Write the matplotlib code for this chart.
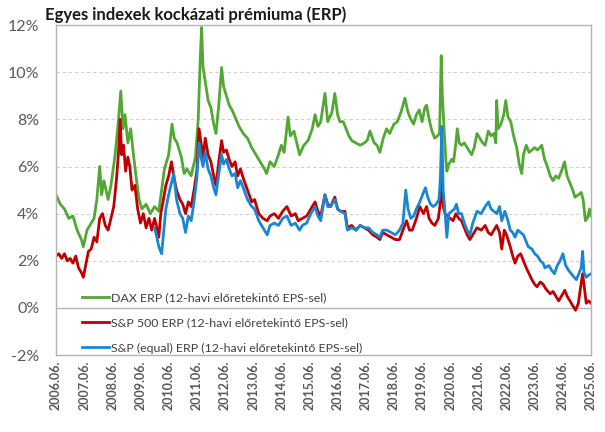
import matplotlib.pyplot as plt
from matplotlib.ticker import FixedLocator, FuncFormatter

# DAX ERP (years as decimal, values in %)
dax_years = [
    2006.50, 2006.65, 2006.80, 2006.95, 2007.10, 2007.25, 2007.40, 2007.47, 2007.60, 2007.75,
    2007.85, 2007.95, 2008.05, 2008.12, 2008.20, 2008.35, 2008.45, 2008.60, 2008.72, 2008.80,
    2008.88, 2008.95, 2009.05, 2009.15, 2009.25, 2009.35, 2009.45, 2009.55, 2009.70, 2009.85,
    2010.00, 2010.15, 2010.25, 2010.35, 2010.50, 2010.62, 2010.70, 2010.80, 2010.95, 2011.05,
    2011.15, 2011.30, 2011.45, 2011.55, 2011.62, 2011.67, 2011.72, 2011.80, 2011.90, 2012.00,
    2012.10, 2012.18, 2012.28, 2012.38, 2012.45, 2012.55, 2012.65, 2012.75, 2012.86, 2013.00,
    2013.15, 2013.30, 2013.45, 2013.60, 2013.75, 2013.90, 2013.98, 2014.10, 2014.25, 2014.40,
    2014.50, 2014.60, 2014.74, 2014.82, 2014.95, 2015.05, 2015.15, 2015.30, 2015.45, 2015.60,
    2015.70, 2015.80, 2015.90, 2016.05, 2016.15, 2016.30, 2016.40, 2016.50, 2016.58, 2016.70,
    2016.80, 2016.90, 2017.00, 2017.15, 2017.30, 2017.45, 2017.55, 2017.65, 2017.80, 2017.90,
    2018.00, 2018.12, 2018.24, 2018.35, 2018.50, 2018.62, 2018.75, 2018.89, 2019.00, 2019.10,
    2019.20, 2019.30, 2019.40, 2019.50, 2019.60, 2019.66, 2019.75, 2019.85, 2019.95, 2020.05,
    2020.12, 2020.18, 2020.22, 2020.28, 2020.35, 2020.38, 2020.45, 2020.55, 2020.62, 2020.70,
    2020.75, 2020.82, 2020.90, 2021.00, 2021.10, 2021.26, 2021.35, 2021.45, 2021.55, 2021.65,
    2021.74, 2021.85, 2021.95, 2022.05, 2022.12, 2022.15, 2022.20, 2022.30, 2022.40, 2022.47,
    2022.55, 2022.65, 2022.75, 2022.86, 2022.95, 2023.04, 2023.10, 2023.20, 2023.30, 2023.40,
    2023.50, 2023.60, 2023.75, 2023.85, 2023.95, 2024.05, 2024.15, 2024.25, 2024.35, 2024.45,
    2024.56, 2024.65, 2024.75, 2024.85, 2024.93, 2025.05, 2025.15, 2025.22, 2025.30, 2025.38,
    2025.45, 2025.50,
]
dax_erp = [
    4.8, 4.4, 4.2, 3.8, 3.9, 3.3, 2.9, 2.6, 3.3, 3.6,
    3.8, 4.6, 6.0, 4.8, 5.4, 4.6, 5.2, 6.5, 8.0, 9.2,
    7.6, 8.2, 7.0, 7.6, 6.5, 5.5, 4.6, 4.2, 4.4, 4.0,
    4.3, 4.1, 5.0, 5.9, 6.5, 7.8, 7.2, 7.0, 6.4, 5.7,
    5.9, 5.6, 6.4, 8.0, 10.5, 11.9, 10.2, 9.6, 8.8, 8.5,
    7.8, 7.4, 8.6, 10.2, 9.4, 9.0, 8.6, 8.4, 8.1, 7.7,
    7.4, 7.2, 6.8, 6.5, 6.2, 5.9, 5.7, 6.2, 6.0, 6.5,
    6.9, 6.6, 8.1, 7.3, 7.5, 7.0, 6.5, 6.9, 7.1, 7.6,
    8.2, 7.7, 7.9, 9.1, 7.9, 8.3, 9.1, 8.2, 7.9, 7.9,
    7.6, 7.3, 7.1, 7.0, 6.9, 7.0, 7.1, 7.5, 7.0, 6.9,
    6.6, 7.2, 7.6, 7.4, 7.8, 7.9, 8.3, 8.9, 8.3, 8.0,
    7.8, 8.2, 8.4, 7.9, 8.5, 8.6, 8.0, 7.5, 7.2, 7.3,
    7.4, 10.7, 9.0, 7.6, 6.2, 5.8, 6.1, 6.3, 6.2, 7.0,
    7.6, 7.0, 6.9, 7.0, 6.8, 6.5, 6.8, 7.4, 7.2, 7.0,
    6.9, 7.5, 7.3, 7.4, 7.0, 8.8, 7.6, 7.8, 8.2, 8.8,
    8.1, 7.9, 7.3, 6.8, 6.1, 5.7, 6.5, 6.9, 6.6, 6.7,
    6.8, 6.7, 6.9, 6.3, 6.0, 5.6, 5.4, 5.6, 5.5, 5.8,
    6.2, 5.6, 5.3, 5.0, 4.7, 4.8, 4.9, 4.6, 3.7, 3.85,
    4.2, 3.9,
]

# S&P 500 ERP
spx_years = [
    2006.50, 2006.60, 2006.70, 2006.80, 2006.90, 2007.00, 2007.10, 2007.20, 2007.30, 2007.40,
    2007.47, 2007.55, 2007.65, 2007.75, 2007.85, 2007.95, 2008.05, 2008.15, 2008.25, 2008.35,
    2008.45, 2008.55, 2008.65, 2008.72, 2008.78, 2008.83, 2008.90, 2008.97, 2009.05, 2009.12,
    2009.20, 2009.30, 2009.40, 2009.50, 2009.60, 2009.70, 2009.80, 2009.90, 2010.00, 2010.08,
    2010.15, 2010.22, 2010.30, 2010.40, 2010.50, 2010.60, 2010.68, 2010.78, 2010.90, 2011.00,
    2011.10, 2011.20, 2011.30, 2011.40, 2011.50, 2011.58, 2011.65, 2011.72, 2011.80, 2011.90,
    2012.00, 2012.10, 2012.18, 2012.28, 2012.38, 2012.45, 2012.55, 2012.65, 2012.75, 2012.86,
    2012.95, 2013.05, 2013.15, 2013.30, 2013.45, 2013.55, 2013.70, 2013.85, 2014.00, 2014.10,
    2014.25, 2014.40, 2014.55, 2014.70, 2014.85, 2015.00, 2015.10, 2015.25, 2015.40, 2015.55,
    2015.70, 2015.80, 2015.90, 2016.05, 2016.15, 2016.25, 2016.40, 2016.50, 2016.60, 2016.76,
    2016.85, 2017.00, 2017.15, 2017.30, 2017.45, 2017.60, 2017.75, 2017.90, 2018.00, 2018.10,
    2018.25, 2018.40, 2018.55, 2018.70, 2018.82, 2018.95, 2019.05, 2019.15, 2019.30, 2019.42,
    2019.55, 2019.66, 2019.75, 2019.85, 2019.95, 2020.08, 2020.15, 2020.20, 2020.25, 2020.32,
    2020.40, 2020.50, 2020.60, 2020.70, 2020.80, 2020.90, 2021.00, 2021.10, 2021.20, 2021.30,
    2021.45, 2021.60, 2021.74, 2021.85, 2021.95, 2022.05, 2022.15, 2022.25, 2022.33, 2022.42,
    2022.50, 2022.63, 2022.72, 2022.80, 2022.90, 2023.00, 2023.10, 2023.20, 2023.30, 2023.40,
    2023.50, 2023.58, 2023.70, 2023.80, 2023.90, 2024.05, 2024.15, 2024.25, 2024.35, 2024.45,
    2024.57, 2024.65, 2024.75, 2024.85, 2024.95, 2025.05, 2025.12, 2025.20, 2025.27, 2025.33,
    2025.42, 2025.50,
]
spx_erp = [
    2.2, 2.3, 2.1, 2.3, 2.0, 2.1, 1.9, 2.2, 1.7, 1.5,
    1.3, 1.8, 2.4, 2.5, 3.0, 2.8, 3.8, 4.0, 3.5, 3.3,
    3.8, 4.3, 5.5, 6.6, 8.0, 6.5, 6.9, 5.8, 6.4, 6.0,
    5.0, 5.2, 4.2, 3.6, 4.0, 3.4, 3.8, 3.3, 3.8, 3.4,
    3.0, 4.0, 4.5, 5.2, 5.6, 6.2, 5.6, 5.0, 4.6, 4.4,
    4.0, 4.5, 4.3, 5.0, 5.8, 7.6, 7.0, 6.4, 7.2, 6.5,
    6.2, 5.6, 5.2, 6.2, 7.1, 6.6, 6.7, 6.3, 6.0, 6.2,
    5.6, 5.9, 5.5, 5.0, 4.5, 4.6, 4.0, 3.8, 3.7, 3.9,
    4.0, 3.8, 4.1, 4.3, 3.9, 4.0, 3.7, 3.8, 3.9, 4.2,
    4.5, 4.1, 3.9, 4.8, 4.4, 4.3, 4.7, 4.2, 4.1, 4.1,
    3.4, 3.5, 3.3, 3.5, 3.4, 3.3, 3.1, 3.0, 2.9, 3.2,
    3.1, 3.0, 2.9, 2.9, 3.3, 3.7, 3.3, 3.3, 3.8, 4.3,
    4.0, 4.3, 3.8, 3.6, 3.5, 3.8, 4.5, 5.7, 4.3, 4.0,
    3.9, 3.8, 3.7, 4.0, 3.8, 3.7, 3.4, 3.1, 2.9, 3.1,
    3.4, 3.3, 3.5, 3.2, 3.1, 3.3, 3.5, 3.2, 2.5, 3.3,
    3.1, 2.6, 2.2, 1.9, 2.2, 2.3, 2.0, 1.7, 1.45, 1.2,
    1.0, 0.9, 1.1, 1.0, 0.8, 0.6, 0.7, 0.5, 0.3, 0.5,
    0.75, 0.5, 0.3, 0.1, -0.1, 0.2, 0.8, 1.45, 0.8, 0.2,
    0.3, 0.2,
]

# S&P 500 equal weight ERP (available from 2010)
spxew_years = [
    2010.00, 2010.08, 2010.15, 2010.25, 2010.32, 2010.40, 2010.50, 2010.62, 2010.68, 2010.78,
    2010.90, 2011.00, 2011.10, 2011.20, 2011.30, 2011.40, 2011.50, 2011.58, 2011.65, 2011.72,
    2011.80, 2011.90, 2012.00, 2012.10, 2012.18, 2012.28, 2012.38, 2012.45, 2012.55, 2012.65,
    2012.75, 2012.86, 2012.95, 2013.05, 2013.15, 2013.30, 2013.45, 2013.55, 2013.70, 2013.85,
    2014.00, 2014.10, 2014.25, 2014.40, 2014.55, 2014.70, 2014.85, 2015.00, 2015.15, 2015.25,
    2015.40, 2015.55, 2015.70, 2015.80, 2015.90, 2016.05, 2016.15, 2016.25, 2016.40, 2016.50,
    2016.60, 2016.76, 2016.85, 2017.00, 2017.15, 2017.30, 2017.45, 2017.60, 2017.75, 2017.90,
    2018.00, 2018.10, 2018.25, 2018.40, 2018.55, 2018.70, 2018.82, 2018.92, 2019.00, 2019.10,
    2019.20, 2019.30, 2019.42, 2019.55, 2019.62, 2019.70, 2019.80, 2019.90, 2020.00, 2020.10,
    2020.15, 2020.20, 2020.25, 2020.30, 2020.38, 2020.45, 2020.55, 2020.65, 2020.72, 2020.80,
    2020.90, 2021.00, 2021.10, 2021.20, 2021.30, 2021.45, 2021.60, 2021.74, 2021.86, 2021.95,
    2022.05, 2022.15, 2022.25, 2022.33, 2022.44, 2022.55, 2022.63, 2022.72, 2022.80, 2022.90,
    2023.00, 2023.10, 2023.20, 2023.27, 2023.40, 2023.50, 2023.60, 2023.70, 2023.80, 2023.86,
    2024.00, 2024.10, 2024.20, 2024.30, 2024.40, 2024.50, 2024.60, 2024.70, 2024.80, 2024.90,
    2024.98, 2025.08, 2025.15, 2025.20, 2025.25, 2025.33, 2025.42, 2025.50,
]
spxew_erp = [
    3.4, 3.0, 2.6, 2.3, 3.2, 4.2, 4.8, 5.4, 5.7, 4.6,
    4.0, 3.8, 3.2, 3.9, 3.7, 4.5, 5.5, 7.0, 6.4, 6.0,
    6.6, 5.9, 5.6, 5.1, 4.8, 5.7, 6.5, 6.1, 6.3, 5.9,
    5.6, 5.7, 5.1, 5.4, 5.1, 4.6, 4.3, 4.2, 3.7, 3.4,
    3.1, 3.5, 3.6, 3.5, 3.8, 3.9, 3.5, 3.6, 3.3, 3.5,
    3.6, 4.0, 4.3, 3.9, 3.7, 4.8, 4.3, 4.3, 4.6, 4.2,
    4.1, 4.0, 3.3, 3.4, 3.3, 3.5, 3.4, 3.4, 3.2, 3.1,
    3.0, 3.3, 3.3, 3.2, 3.1, 3.3, 3.6, 5.0, 4.2, 3.8,
    3.9, 4.2, 4.5, 4.9, 5.1, 4.7, 4.4, 4.3, 4.4, 4.6,
    5.5, 7.7, 5.0, 4.3, 3.0, 4.0, 4.1, 4.2, 4.4, 4.0,
    4.0, 3.6, 3.3, 3.1, 3.6, 4.1, 4.0, 4.3, 4.5, 4.2,
    4.1, 4.0, 4.3, 3.7, 4.1, 3.7, 3.3, 3.2, 3.0, 3.3,
    3.2, 3.1, 2.8, 2.6, 2.5, 2.3, 2.2, 2.0, 1.9, 1.7,
    1.8, 1.6, 1.45, 1.8, 2.0, 2.3, 1.8, 1.6, 1.45, 1.3,
    1.2, 1.5, 1.7, 2.4, 1.5, 1.3, 1.4, 1.45,
]

tick_years = list(range(2006, 2026))
tick_labels = [f"{y}.06." for y in tick_years]

GREEN = "#52A833"
RED = "#C00000"
BLUE = "#1A86D2"
TEXT = "#595959"
FRAME = "#B4B4B4"

plt.rcParams["font.family"] = ["Lato", "DejaVu Sans"]

fig = plt.figure(figsize=(6.05, 4.32), dpi=100)
ax = fig.add_axes([0.0926, 0.178, 0.8843, 0.764])

ax.plot(dax_years, dax_erp, color=GREEN, lw=2.0, label="DAX ERP (12-havi előretekintő EPS-sel)")
ax.plot(spx_years, spx_erp, color=RED, lw=2.0, label="S&P 500 ERP (12-havi előretekintő EPS-sel)")
ax.plot(spxew_years, spxew_erp, color=BLUE, lw=2.0, label="S&P (equal) ERP (12-havi előretekintő EPS-sel)")

ax.set_xlim(2006.5, 2025.5)
ax.set_ylim(-2, 12)

# rácsvonalak és nulla tengely
for v in [2, 4, 6, 8, 10]:
    ax.axhline(v, color="#D0D0D0", lw=0.8, ls=(0, (3, 2.5)), zorder=0)
ax.axhline(0, color=FRAME, lw=1.0, zorder=0.5)

ax.xaxis.set_major_locator(FixedLocator([y + 0.5 for y in tick_years]))
ax.set_xticklabels(tick_labels, rotation=90, fontsize=9, fontweight="bold", color=TEXT)
ax.set_yticks(range(-2, 13, 2))
ax.yaxis.set_major_formatter(FuncFormatter(lambda v, _: f"{v:.0f}%"))
ax.tick_params(axis="y", labelsize=11.5, labelcolor=TEXT, length=0, pad=12)
ax.tick_params(axis="x", length=0, pad=4)

for s in ax.spines.values():
    s.set_color(FRAME)
    s.set_linewidth(1.0)

leg = ax.legend(
    loc="lower left",
    bbox_to_anchor=(0.035, -0.018),
    frameon=False,
    fontsize=8.9,
    handlelength=2.2,
    handletextpad=0.15,
    labelspacing=1.15,
    borderaxespad=0.2,
)
for t in leg.get_texts():
    t.set_color("#404040")

fig.text(0.075, 0.965, "Egyes indexek kockázati prémiuma (ERP)", fontsize=12, fontweight="bold",
         color="#1A1A1A", va="center", ha="left")

fig.savefig("out.png", dpi=100)
